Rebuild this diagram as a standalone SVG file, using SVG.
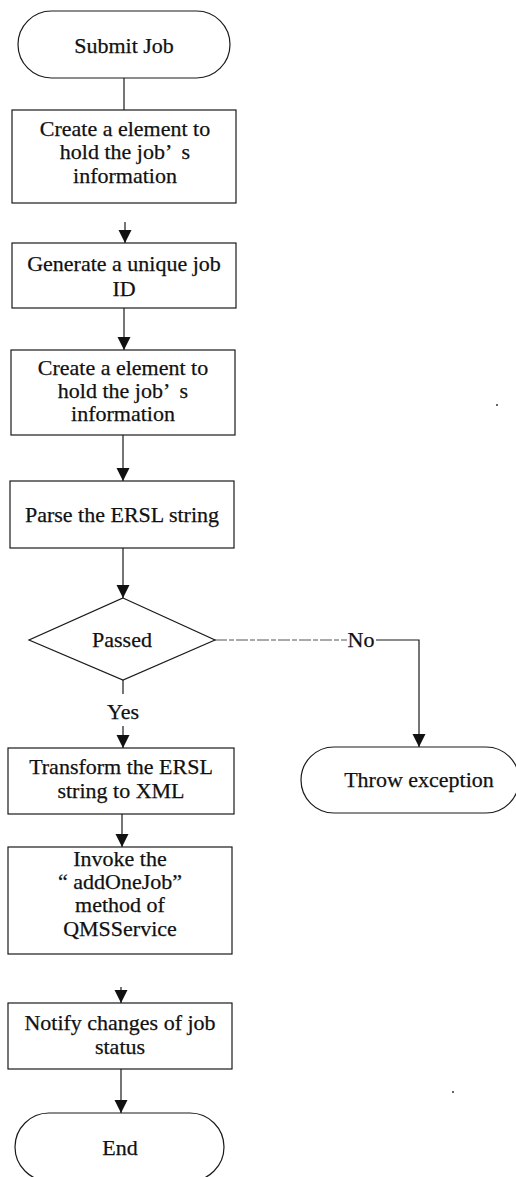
<svg xmlns="http://www.w3.org/2000/svg" width="516" height="1177" viewBox="0 0 516 1177">
  <style>
    .shape { fill: #ffffff; stroke: #1a1a1a; stroke-width: 1.2; }
    .edge { fill: none; stroke: #1a1a1a; stroke-width: 1.2; }
    .faint { fill: none; stroke: #555555; stroke-width: 1; stroke-dasharray: 12 2 5 2; }
    .label { font-family: "Liberation Serif", "Times New Roman", serif; font-size: 22px; fill: #111111; stroke: #111111; stroke-width: 0.25; text-anchor: middle; }
  </style>
  <defs>
    <marker id="arrow" markerUnits="userSpaceOnUse" markerWidth="14" markerHeight="14" refX="13" refY="6.5" orient="auto">
      <path d="M0,0 L13,6.5 L0,13 Z" fill="#111111"/>
    </marker>
  </defs>

  <rect width="516" height="1177" fill="#ffffff"/>

  <!-- connectors -->
  <g id="connectors">
    <line class="edge" x1="124" y1="78" x2="124" y2="110"/>
    <line class="edge" x1="125" y1="222" x2="125" y2="243" marker-end="url(#arrow)"/>
    <line class="edge" x1="124" y1="308" x2="124" y2="350" marker-end="url(#arrow)"/>
    <line class="edge" x1="123" y1="435" x2="123" y2="481" marker-end="url(#arrow)"/>
    <line class="edge" x1="123" y1="548" x2="123" y2="598" marker-end="url(#arrow)"/>
    <line class="edge" x1="123" y1="680" x2="123" y2="694"/>
    <line class="edge" x1="123" y1="726" x2="123" y2="748" marker-end="url(#arrow)"/>
    <line class="edge" x1="122" y1="814" x2="122" y2="847" marker-end="url(#arrow)"/>
    <line class="edge" x1="121" y1="987" x2="121" y2="1003" marker-end="url(#arrow)"/>
    <line class="edge" x1="121" y1="1069" x2="121" y2="1113" marker-end="url(#arrow)"/>
    <!-- "No" branch -->
    <line class="faint" x1="215" y1="640" x2="347" y2="640"/>
    <polyline class="edge" points="376,640 419,640 419,747" marker-end="url(#arrow)"/>
    <text class="label" x="361" y="647">No</text>
    <text class="label" x="123" y="719">Yes</text>
  </g>

  <g id="submit-job">
    <rect class="shape" x="18" y="11" width="212" height="67" rx="33.5"/>
    <text class="label" x="124" y="53">Submit Job</text>
  </g>

  <g id="create-element-1">
    <rect class="shape" x="12" y="110" width="224" height="93"/>
    <text class="label" x="125" y="136">Create a element to</text>
    <text class="label" x="125" y="159" xml:space="preserve">hold the job’  s</text>
    <text class="label" x="125" y="183">information</text>
  </g>

  <g id="generate-id">
    <rect class="shape" x="12" y="243" width="224" height="65"/>
    <text class="label" x="124" y="271">Generate a unique job</text>
    <text class="label" x="124" y="296">ID</text>
  </g>

  <g id="create-element-2">
    <rect class="shape" x="11" y="350" width="224" height="85"/>
    <text class="label" x="123" y="375">Create a element to</text>
    <text class="label" x="123" y="398" xml:space="preserve">hold the job’  s</text>
    <text class="label" x="123" y="421">information</text>
  </g>

  <g id="parse-ersl">
    <rect class="shape" x="10" y="481" width="224" height="67"/>
    <text class="label" x="122" y="522">Parse the ERSL string</text>
  </g>

  <g id="passed">
    <polygon class="shape" points="123,598 215,640 123,680 29,640"/>
    <text class="label" x="122" y="647">Passed</text>
  </g>

  <g id="throw-exception">
    <rect class="shape" x="301" y="747" width="218" height="66" rx="33"/>
    <text class="label" x="419" y="787">Throw exception</text>
  </g>

  <g id="transform-xml">
    <rect class="shape" x="8" y="748" width="226" height="66"/>
    <text class="label" x="121" y="774">Transform the ERSL</text>
    <text class="label" x="121" y="798">string to XML</text>
  </g>

  <g id="invoke-addonejob">
    <rect class="shape" x="8" y="847" width="224" height="107"/>
    <text class="label" x="120" y="866">Invoke the</text>
    <text class="label" x="120" y="889" xml:space="preserve">“ addOneJob”</text>
    <text class="label" x="120" y="912">method of</text>
    <text class="label" x="120" y="936">QMSService</text>
  </g>

  <g id="notify-status">
    <rect class="shape" x="8" y="1003" width="224" height="66"/>
    <text class="label" x="120" y="1030">Notify changes of job</text>
    <text class="label" x="120" y="1054">status</text>
  </g>

  <g id="end">
    <rect class="shape" x="15" y="1113" width="209" height="68" rx="34"/>
    <text class="label" x="120" y="1155">End</text>
  </g>

  <!-- stray specks -->
  <circle cx="497" cy="405" r="1" fill="#333333"/>
  <circle cx="453" cy="1092" r="1" fill="#333333"/>
</svg>
